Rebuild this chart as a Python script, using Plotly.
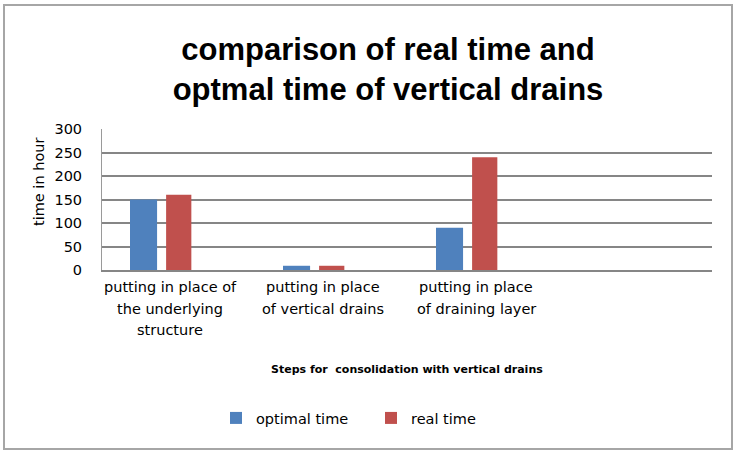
import plotly.graph_objects as go

categories = ["putting in place of<br>the underlying<br>structure",
              "putting in place<br>of vertical drains",
              "putting in place<br>of draining layer"]
optimal_time = [150, 9, 90]
real_time = [160, 9, 240]
y_ticks = [0, 50, 100, 150, 200, 250, 300]

title_text = "comparison of real time and<br>optmal time of vertical drains"
x_title = "Steps for\u00a0 consolidation with vertical drains"
y_title = "time in hour"

W, H = 741, 456
L, R, T, B = 102, 29, 129, 186
pw, ph = W - L - R, H - T - B

def px_x(p):
    return (p - L) / pw

def px_y(p):
    return (H - B - p) / ph

xs = list(range(len(categories)))
FONT = "DejaVu Sans"

fig = go.Figure()
fig.add_trace(go.Bar(x=xs, y=optimal_time, name="optimal time",
                     marker=dict(color="#4F81BD", line=dict(width=0)),
                     offset=-0.203, width=0.177))
fig.add_trace(go.Bar(x=xs, y=real_time, name="real time",
                     marker=dict(color="#C0504D", line=dict(width=0)),
                     offset=0.033, width=0.165))

annotations = []
for i, c in enumerate(categories):
    for k, line in enumerate(c.split("<br>")):
        annotations.append(dict(x=i, y=px_y(287 + 21.5 * k), xref="x", yref="paper",
                                text=line, showarrow=False,
                                xanchor="center", yanchor="middle", xshift=9,
                                font=dict(family=FONT, size=14.5, color="#000000")))
annotations.append(dict(x=px_x(407), y=px_y(369), xref="paper", yref="paper",
                        text="<b>" + x_title + "</b>", showarrow=False,
                        xanchor="center", yanchor="middle",
                        font=dict(family=FONT, size=11, color="#000000")))
annotations.append(dict(x=px_x(39), y=px_y(182), xref="paper", yref="paper",
                        text=y_title, showarrow=False, textangle=-90,
                        xanchor="center", yanchor="middle",
                        font=dict(family=FONT, size=14.5, color="#000000")))

fig.update_layout(
    width=W, height=H,
    margin=dict(l=L, r=R, t=T, b=B),
    paper_bgcolor="white", plot_bgcolor="white",
    title=dict(text=title_text, x=388 / W, xanchor="center", xref="container",
               y=1 - 60 / H, yanchor="middle", yref="container",
               font=dict(family="Liberation Sans", size=31, color="#000000", weight="bold")),
    barmode="overlay",
    showlegend=True,
    legend=dict(orientation="h", x=px_x(216), y=px_y(418), xanchor="left", yanchor="middle",
                font=dict(family=FONT, size=14.5, color="#000000"),
                entrywidth=110, entrywidthmode="pixels", bgcolor="rgba(0,0,0,0)"),
    xaxis=dict(range=[-0.386, 3.601], showticklabels=False, showgrid=False,
               zeroline=False, showline=True, linecolor="#868686", linewidth=1.5,
               fixedrange=True),
    yaxis=dict(range=[0, 300], tickvals=y_ticks, showgrid=True, gridcolor="#868686",
               gridwidth=1.5, zeroline=False, showline=True, linecolor="#9a9a9a",
               linewidth=1, ticks="", ticklabelstandoff=16,
               tickfont=dict(family=FONT, size=14.5, color="#000000")),
    annotations=annotations,
    shapes=[dict(type="rect", xref="paper", yref="paper",
                 x0=px_x(4), x1=px_x(732), y0=px_y(449), y1=px_y(5),
                 line=dict(color="#a6a6a6", width=2), fillcolor="rgba(0,0,0,0)",
                 layer="below")],
)

fig.write_html("out.html")
